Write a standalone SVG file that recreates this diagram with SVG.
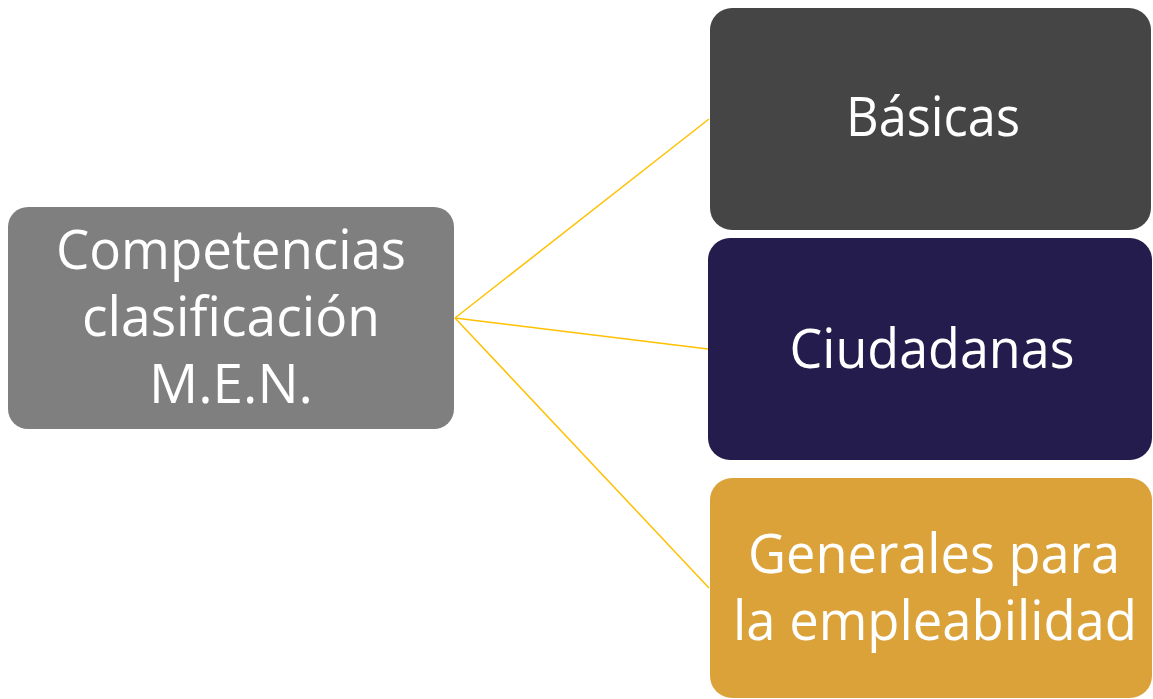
<svg xmlns="http://www.w3.org/2000/svg" width="1153" height="699" viewBox="0 0 1153 699">
<style>
.t{font-family:"Open Sans","Noto Sans","Liberation Sans",sans-serif;font-size:55px;fill:#ffffff;text-anchor:middle}
.c{stroke:#ffc000;stroke-width:1.5;fill:none}
</style>
<rect width="1153" height="699" fill="#ffffff"/>
<g id="connectors">
<line class="c" x1="455" y1="318" x2="709" y2="119"/>
<line class="c" x1="455" y1="318" x2="708" y2="349"/>
<line class="c" x1="455" y1="318" x2="709" y2="588"/>
</g>
<g id="root">
<rect x="8" y="207" width="446" height="222" rx="20" fill="#7f7f7f"/>
<text class="t" x="231" y="269" textLength="350" lengthAdjust="spacingAndGlyphs">Competencias</text>
<text class="t" x="231" y="336" textLength="298" lengthAdjust="spacingAndGlyphs">clasificación</text>
<text class="t" x="231" y="403" textLength="164" lengthAdjust="spacingAndGlyphs">M.E.N.</text>
</g>
<g id="basicas">
<rect x="710" y="8" width="441" height="222" rx="22" fill="#454545"/>
<text class="t" x="933" y="136" textLength="174" lengthAdjust="spacingAndGlyphs">Básicas</text>
</g>
<g id="ciudadanas">
<rect x="708" y="238" width="444" height="222" rx="22" fill="#231c4c"/>
<text class="t" x="932" y="368" textLength="285" lengthAdjust="spacingAndGlyphs">Ciudadanas</text>
</g>
<g id="generales">
<rect x="710" y="478" width="442" height="220" rx="22" fill="#dba23a"/>
<text class="t" x="934" y="573" textLength="372" lengthAdjust="spacingAndGlyphs">Generales para</text>
<text class="t" x="935" y="640" textLength="404" lengthAdjust="spacingAndGlyphs">la empleabilidad</text>
</g>
</svg>
